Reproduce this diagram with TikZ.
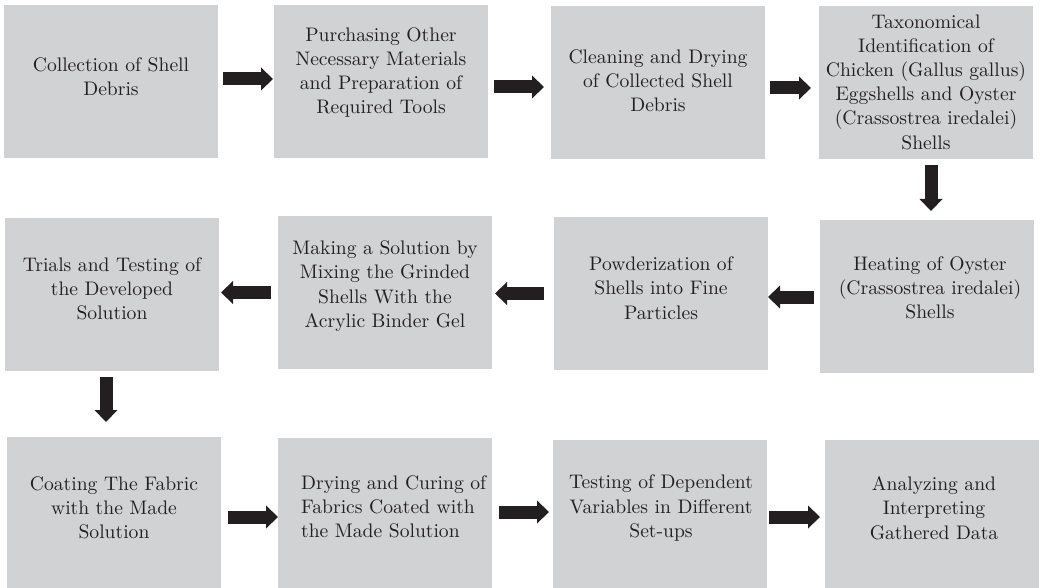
\documentclass[tikz,border=0pt]{standalone}
\usepackage{fontspec}
\newfontfamily\lmten{lmroman10-regular}[Extension=.otf]
\usetikzlibrary{arrows.meta}
\definecolor{boxgray}{RGB}{209,210,212}
\definecolor{ink}{RGB}{35,31,32}
\begin{document}
\begin{tikzpicture}[x=1pt,y=-1pt,
  box/.style={fill=boxgray, draw=none, inner sep=0pt, outer sep=0pt, minimum width=214pt, minimum height=153pt},
  txt/.style={align=center, text=ink, font=\lmten\fontsize{19.6}{24.2}\selectfont, inner sep=0pt},
  barrow/.style={draw=ink, line width=13pt, -{Triangle[width=23pt,length=12pt,line width=0pt]}}
]
\useasboundingbox (0,0) rectangle (1041,588);
\clip (0,0) rectangle (1041,588);
% boxes
\node[box] (b1) at (111,81.5) {};
\node[box] (b2) at (381,81.5) {};
\node[box] (b3) at (658,82.5) {};
\node[box] (b4) at (926,82.5) {};
\node[box] (b8) at (927,296.5) {};
\node[box] (b7) at (661,293.5) {};
\node[box] (b6) at (385,292.5) {};
\node[box] (b5) at (112,294.5) {};
\node[box] (b9) at (114,513.5) {};
\node[box] (b10) at (385,514.5) {};
\node[box] (b11) at (660,516.5) {};
\node[box] (b12) at (932,516.5) {};
% texts
\node[txt] (t1) at (111,77) {Collection of Shell\\Debris};
\node[txt] (t2) at (381,72.5) {Purchasing Other\\Necessary Materials\\and Preparation of\\Required Tools};
\node[txt] (t3) at (658,81) {Cleaning and Drying\\of Collected Shell\\Debris};
\node[txt] (t4) at (926,82) {Taxonomical\\Identification of\\Chicken (Gallus gallus)\\Eggshells and Oyster\\(Crassostrea iredalei)\\Shells};
\node[txt] (t8) at (930,288) {Heating of Oyster\\(Crassostrea iredalei)\\Shells};
\node[txt] (t7) at (661,288) {Powderization of\\Shells into Fine\\Particles};
\node[txt] (t6) at (385,286) {Making a Solution by\\Mixing the Grinded\\Shells With the\\Acrylic Binder Gel};
\node[txt] (t5) at (112,289) {Trials and Testing of\\the Developed\\Solution};
\node[txt] (t9) at (114,508) {Coating The Fabric\\with the Made\\Solution};
\node[txt, align=left, anchor=west] (t10) at (301,507) {Drying and Curing of\\Fabrics Coated with\\the Made Solution};
\node[txt] (t11) at (661,508) {Testing of Dependent\\Variables in Different\\Set-ups};
\node[txt] (t12) at (934,508) {Analyzing and\\Interpreting\\Gathered Data};
% arrows
\draw[barrow, shorten <=5pt, shorten >=1pt] ([yshift=2.5pt]b1.east) -- ([yshift=2.5pt]b1.east -| b2.west);
\draw[barrow, shorten <=6pt, shorten >=7pt] ([yshift=-5.5pt]b2.east) -- ([yshift=-5.5pt]b2.east -| b3.west);
\draw[barrow, shorten <=5pt, shorten >=8pt] ([yshift=-5.5pt]b3.east) -- ([yshift=-5.5pt]b3.east -| b4.west);
\draw[barrow, shorten <=6pt, shorten >=9pt] ([xshift=5pt]b4.south) -- ([xshift=5pt]b4.south |- b8.north);
\draw[barrow, shorten <=6pt, shorten >=0pt] ([yshift=-0.5pt]b8.west) -- ([yshift=-0.5pt]b8.west -| b7.east);
\draw[barrow, shorten <=10pt, shorten >=3pt] (b7.west) -- (b7.west -| b6.east);
\draw[barrow, shorten <=7pt, shorten >=2pt] (b6.west) -- (b6.west -| b5.east);
\draw[barrow, shorten <=6pt, shorten >=15pt] ([xshift=-6pt]b5.south) -- ([xshift=-6pt]b5.south |- b9.north);
\draw[barrow, shorten <=7pt, shorten >=0pt] ([yshift=-3.5pt]b9.east) -- ([yshift=-3.5pt]b9.east -| b10.west);
\draw[barrow, shorten <=7pt, shorten >=4pt] ([yshift=2.5pt]b10.east) -- ([yshift=2.5pt]b10.east -| b11.west);
\draw[barrow, shorten <=2pt, shorten >=5pt] ([yshift=-0.5pt]b11.east) -- ([yshift=-0.5pt]b11.east -| b12.west);
\end{tikzpicture}
\end{document}
